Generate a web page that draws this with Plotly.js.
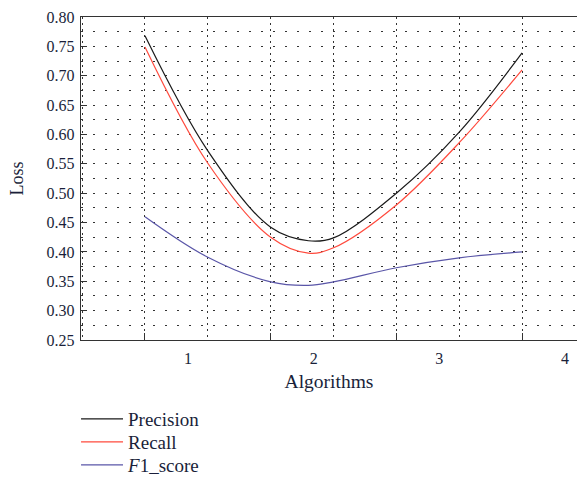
<!DOCTYPE html>
<html>
<head>
<meta charset="utf-8">
<script src="https://cdn.plot.ly/plotly-3.0.1.min.js"></script>
<style>html,body{margin:0;padding:0;background:#fff;overflow:hidden;}#chart{width:577px;height:488px;}</style>
</head>
<body>
<div id="chart"></div>
<script>
// Data
const xValues = [1, 1.5, 2, 2.3, 2.5, 3, 3.5, 4];
const precision = [0.768, 0.572, 0.442, 0.419, 0.424, 0.500, 0.604, 0.739];
const recall = [0.749, 0.551, 0.425, 0.398, 0.407, 0.480, 0.586, 0.710];
const f1Score = [0.460, 0.391, 0.349, 0.343, 0.349, 0.373, 0.390, 0.400];
const xTickVals = [1, 2, 3, 4];
const xTickText = ['1', '2', '3', '4'];
const yTickVals = [0.25, 0.30, 0.35, 0.40, 0.45, 0.50, 0.55, 0.60, 0.65, 0.70, 0.75, 0.80];

const FONT = "'Liberation Serif', 'Times New Roman', serif";
const TXT = '#1a1f3a';

function line(name, y, color, legendId) {
  return {
    type: 'scatter', mode: 'lines', name: name, legend: legendId,
    x: xValues, y: y,
    line: {color: color, width: 1.2, shape: 'spline', smoothing: 1}
  };
}

const data = [
  line('Precision', precision, '#1a1a1a', 'legend'),
  line('Recall', recall, '#ff4a3d', 'legend2'),
  line('<i>F</i>1_score', f1Score, '#5a56a8', 'legend3')
];

const gridH = {color: '#333', dash: '2px,10px'};
const gridV = {color: '#333', dash: '2px,4px'};

function legendAt(yc) {
  return {
    x: -0.010, y: yc, xanchor: 'left', yanchor: 'middle',
    itemwidth: 42,
    font: {family: FONT, size: 19, color: TXT},
    bgcolor: 'rgba(0,0,0,0)'
  };
}

const layout = {
  width: 577, height: 488,
  margin: {l: 81, r: 0, t: 17, b: 0},
  paper_bgcolor: '#fff', plot_bgcolor: '#fff',
  font: {family: FONT, size: 16, color: TXT},
  showlegend: true,
  legend: legendAt(0.1465),
  legend2: legendAt(0.0977),
  legend3: legendAt(0.0488),
  xaxis: {
    range: [0.491, 4.437],
    tickvals: xTickVals, ticktext: xTickText,
    ticklabelshift: 43, ticklabelstandoff: 4,
    ticks: 'inside', ticklen: 7, tickcolor: '#333', tickwidth: 1,
    showline: true, linecolor: '#333', linewidth: 1.2, mirror: true,
    showgrid: true, gridcolor: gridV.color, griddash: gridV.dash, gridwidth: 1,
    minor: {dtick: 0.5, tick0: 0, showgrid: true, gridcolor: gridV.color, griddash: gridV.dash, gridwidth: 1, ticks: ''},
    zeroline: false,
    tickfont: {family: FONT, size: 16, color: TXT},
    title: {text: 'Algorithms', font: {family: FONT, size: 19.5, color: TXT}, standoff: 8}
  },
  yaxis: {
    domain: [0.3142, 1],
    range: [0.25, 0.80],
    tickvals: yTickVals, tickformat: '.2f',
    ticklabelstandoff: 2,
    ticks: 'inside', ticklen: 6, tickcolor: '#333', tickwidth: 1,
    showline: true, linecolor: '#333', linewidth: 1.2,
    showgrid: true, gridcolor: gridH.color, griddash: gridH.dash, gridwidth: 1,
    minor: {dtick: 0.025, tick0: 0, showgrid: true, gridcolor: gridH.color, griddash: gridH.dash, gridwidth: 1, ticks: ''},
    zeroline: false,
    tickfont: {family: FONT, size: 16, color: TXT},
    title: {text: 'Loss', font: {family: FONT, size: 18, color: TXT}, standoff: 18}
  }
};

Plotly.newPlot('chart', data, layout, {displayModeBar: false, staticPlot: true});
</script>
</body>
</html>
